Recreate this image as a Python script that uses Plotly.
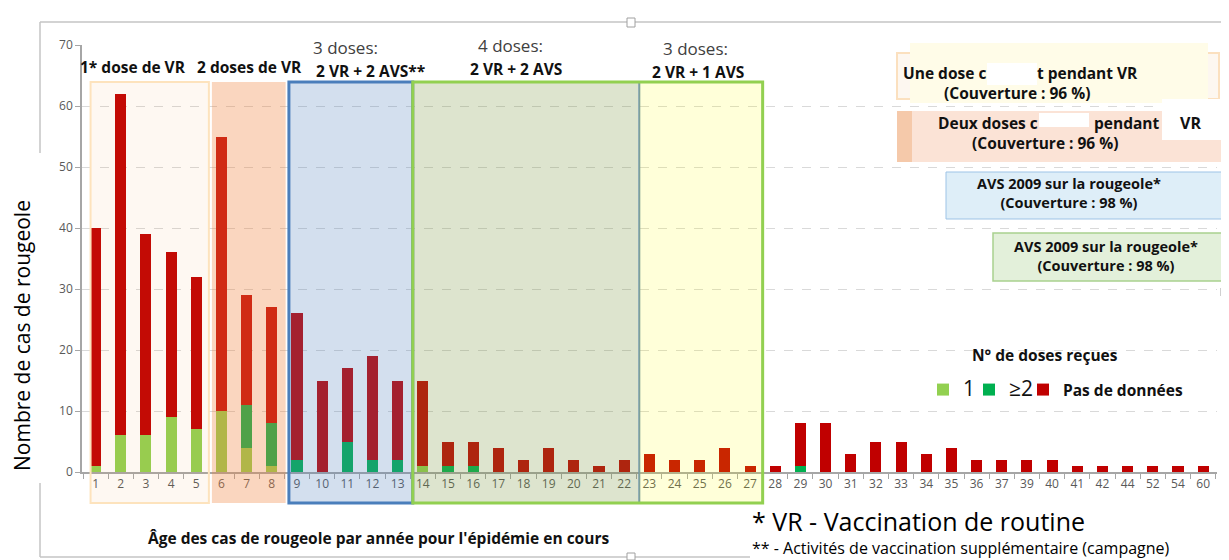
import plotly.graph_objects as go

# ---------------- data ----------------
ages = ["1", "2", "3", "4", "5", "6", "7", "8", "9", "10",
        "11", "12", "13", "14", "15", "16", "17", "18", "19", "20",
        "21", "22", "23", "24", "25", "26", "27", "28", "29", "30",
        "31", "32", "33", "34", "35", "36", "37", "39", "40", "41",
        "42", "44", "52", "54", "60"]

one_dose = [1, 6, 6, 9, 7, 10, 4, 1, 0, 0,
            0, 0, 0, 1, 0, 0, 0, 0, 0, 0,
            0, 0, 0, 0, 0, 0, 0, 0, 0, 0,
            0, 0, 0, 0, 0, 0, 0, 0, 0, 0,
            0, 0, 0, 0, 0]

two_plus = [0, 0, 0, 0, 0, 0, 7, 7, 2, 0,
            5, 2, 2, 0, 1, 1, 0, 0, 0, 0,
            0, 0, 0, 0, 0, 0, 0, 0, 1, 0,
            0, 0, 0, 0, 0, 0, 0, 0, 0, 0,
            0, 0, 0, 0, 0]

no_data = [39, 56, 33, 27, 25, 45, 18, 19, 24, 15,
           12, 17, 13, 14, 4, 4, 4, 2, 4, 2,
           1, 2, 3, 2, 2, 4, 1, 1, 7, 8,
           3, 5, 5, 3, 4, 2, 2, 2, 2, 1,
           1, 1, 1, 1, 1]

series_labels = ["<span style='font-size:21px'>1</span>",
                 "<span style='font-size:21px'>≥2</span>",
                 "<b>Pas de données</b>"]
series_values = [one_dose, two_plus, no_data]
series_colors = ["#92d050", "#00b050", "#c00000"]
legend_widths = [1, 9, 0]

# ---------------- geometry helpers ----------------
# the page body has an 8px margin, so the figure is 8px smaller and all
# positions below are given in window pixels
OFF = 8
W, H = 1229 - OFF, 560 - OFF
L, R, T, B = 82 - OFF, 12, 45 - OFF, 88
PW, PH = W - L - R, H - T - B


def px(x):
    return (x - OFF - L) / PW


def py(y):
    return (H - B - (y - OFF)) / PH


FONT = "Open Sans"
BS = 15.5  # bold label size

fig = go.Figure()
for lab, vals, col, lw in zip(series_labels, series_values, series_colors, legend_widths):
    fig.add_trace(go.Bar(x=ages, y=vals, name=lab, legendwidth=lw,
                         marker=dict(color=col, line=dict(width=0))))

shapes = []


def prect(x0, y0, x1, y1, fill, line=None, lw=0, layer="above"):
    shapes.append(dict(type="rect", xref="paper", yref="paper",
                       x0=px(x0), x1=px(x1), y0=py(y1), y1=py(y0),
                       fillcolor=fill, layer=layer,
                       line=dict(color=line or "rgba(0,0,0,0)", width=lw)))


def pline(x0, y0, x1, y1, color="#c4c4c4", lw=1.5):
    shapes.append(dict(type="line", xref="paper", yref="paper",
                       x0=px(x0), x1=px(x1), y0=py(y0), y1=py(y1),
                       line=dict(color=color, width=lw), layer="above"))


# zone boxes (in category index units on x)
zy0, zy1 = py(503), py(82)


def zone(x0, x1, fill, line=None, lw=0):
    shapes.append(dict(type="rect", xref="x", yref="paper", x0=x0, x1=x1,
                       y0=zy0, y1=zy1, fillcolor=fill, layer="above",
                       line=dict(color=line or "rgba(0,0,0,0)", width=lw)))


zone(-0.2, 4.5, "rgba(247,150,70,0.07)", "#fde3bd", 2)
zone(4.62, 7.55, "rgba(240,130,60,0.33)")
zone(7.68, 12.6, "rgba(79,129,189,0.25)", "#4a7ebb", 3)
zone(12.6, 21.6, "rgba(119,147,60,0.25)", "#7096aa", 2)
zone(21.6, 26.5, "rgba(255,255,0,0.15)")
zone(12.6, 26.5, "rgba(0,0,0,0)", "#92d050", 3)

# top-right coverage boxes
prect(897, 53, 1219, 99, "#fdf7f0", "#fbe0bf", 2)
prect(910, 43, 1208, 103, "#fffce8")
prect(987, 63, 1037, 85, "white")
prect(897, 111, 1224, 162, "#fbe3d6")
prect(897, 111, 912, 162, "#f5c9aa")
prect(1039, 113, 1089, 127, "white")
prect(1162, 99, 1229, 140, "white")
prect(946, 172, 1224, 219, "#deeef8", "#9dc3e6", 1)
prect(993, 233, 1224, 281, "#e3f0da", "#a9d18e", 1.5)

# frame of the original slide object
pline(40, 22, 1225, 22)
pline(40, 22, 40, 153)
pline(40, 483, 40, 557)
pline(40, 557, 750, 557)
pline(1225, 22, 1225, 540)
prect(627, 18, 635, 27, "white", "#a0a0a0", 1)
prect(1221, 288, 1229, 296, "white", "#a0a0a0", 1)
prect(627, 553, 635, 560, "white", "#a0a0a0", 1)

fig.update_layout(shapes=shapes)

ann = []


def text(x, y, s, size=BS, bold=False, color="#111111", xanchor="center", angle=0,
         align="center"):
    ann.append(dict(xref="paper", yref="paper", x=px(x), y=py(y),
                    text=("<b>%s</b>" % s) if bold else s, showarrow=False,
                    xanchor=xanchor, yanchor="middle", textangle=angle, align=align,
                    font=dict(family=FONT, size=size, color=color)))


# zone headers
text(133, 67, "1* dose de VR", BS, True)
text(249, 67, "2 doses de VR", BS, True)
text(345, 47, "3 doses:", 17, False, "#404040")
text(370, 71, "2 VR + 2 AVS**", BS, True)
text(510, 45, "4 doses:", 17, False, "#404040")
text(516, 69, "2 VR + 2 AVS", BS, True)
text(695, 48, "3 doses:", 17, False, "#404040")
text(698, 72, "2 VR + 1 AVS", BS, True)

# coverage boxes text
text(988, 73, "Une dose c", BS, True, xanchor="right")
text(1035, 73, "t pendant VR", BS, True, xanchor="left")
text(1017, 93, "(Couverture : 96 %)", BS, True)
text(1040, 123, "Deux doses c", BS, True, xanchor="right")
text(1092, 123, "pendant", BS, True, xanchor="left")
text(1190, 123, "VR", 16, True)
text(1045, 143, "(Couverture : 96 %)", BS, True)
text(1069, 193, "AVS 2009 sur la rougeole*<br>(Couverture : 98 %)", 14.5, True)
text(1106, 256, "AVS 2009 sur la rougeole*<br>(Couverture : 98 %)", 14.5, True)

# legend heading
text(1045, 355, "N° de doses reçues", BS, True)

# axis titles and footnotes
text(22, 336, "Nombre de cas de rougeole", 21, False, "#000000", angle=-90)
text(378, 538, "Âge des cas de rougeole par année pour l'épidémie en cours", BS, True)
text(750, 531,
     "<span style='font-size:25px'>* VR - Vaccination de routine</span><br>"
     "<span style='font-size:16px'>** - Activités de vaccination supplémentaire (campagne)</span>",
     18, False, "#000000", xanchor="left", align="left")

fig.update_layout(
    annotations=ann,
    width=W, height=H,
    margin=dict(l=L, r=R, t=T, b=B, pad=0),
    barmode="stack", bargap=0.56,
    plot_bgcolor="white", paper_bgcolor="white",
    font=dict(family=FONT, size=12, color="#595959"),
    showlegend=True,
    legend=dict(orientation="h", x=px(923), y=py(390), xanchor="left", yanchor="middle",
                traceorder="normal", bgcolor="rgba(0,0,0,0)",
                font=dict(family=FONT, size=BS, color="#111111"),
                itemclick=False, itemdoubleclick=False),
    xaxis=dict(type="category", categoryorder="array", categoryarray=ages,
               range=[-0.54, 44.55], tickson="boundaries", ticks="outside",
               ticklen=5, tickcolor="#a6a6a6", showline=True, linecolor="#a6a6a6",
               linewidth=1.5, showgrid=False, automargin=False,
               tickfont=dict(family=FONT, size=12, color="#595959")),
    yaxis=dict(range=[0, 70], dtick=10, ticks="outside", ticklen=5,
               tickcolor="#a6a6a6", showline=True, linecolor="#a6a6a6",
               linewidth=1.5, showgrid=True, gridcolor="#d9d9d9", griddash="dash",
               gridwidth=1, zeroline=False, automargin=False,
               tickfont=dict(family=FONT, size=12, color="#595959")),
)

fig.write_html("out.html")
